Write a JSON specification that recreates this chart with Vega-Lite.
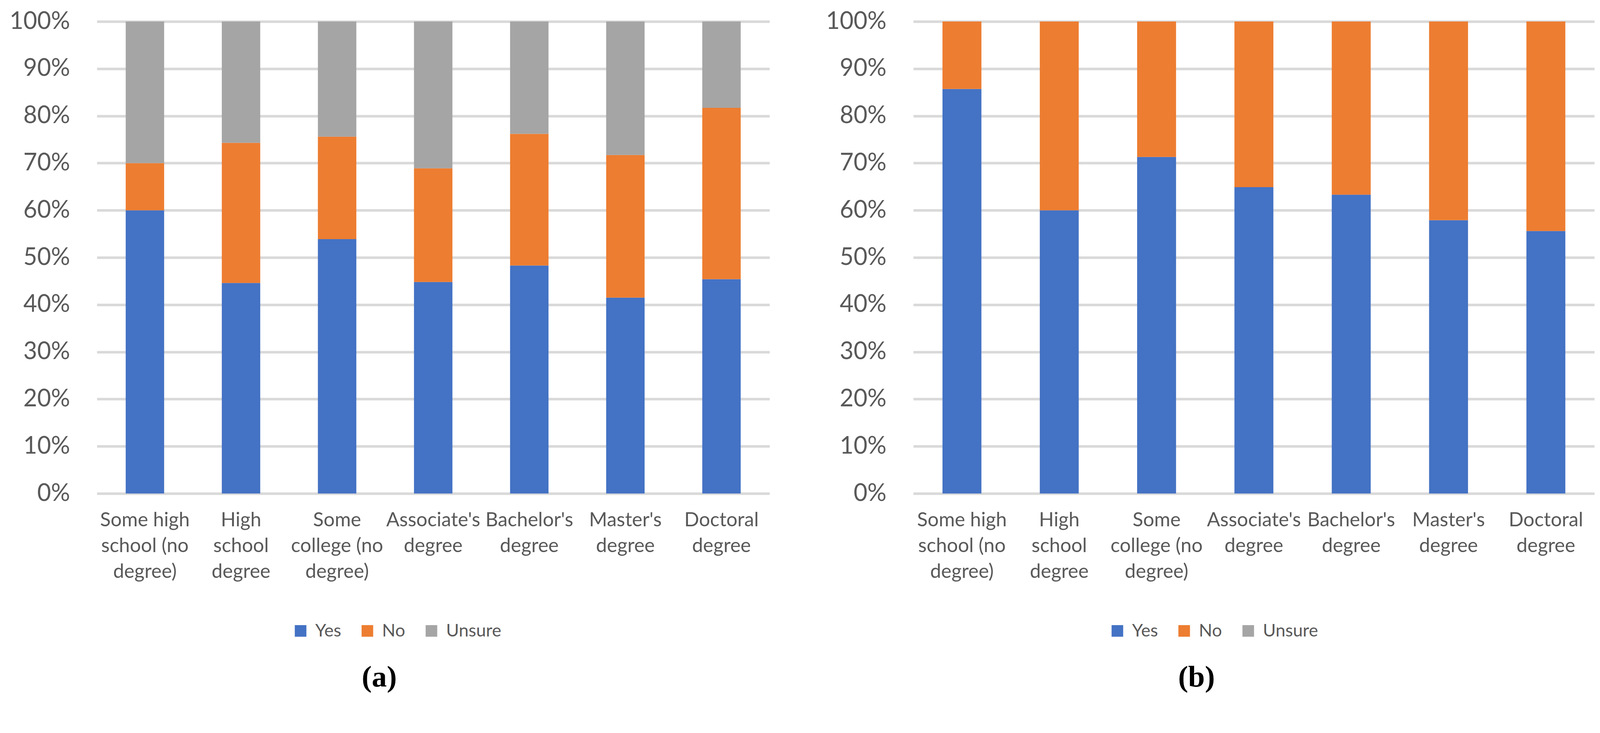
{
  "$schema": "https://vega.github.io/schema/vega-lite/v6.json",
  "background": "white",
  "padding": {"left": 23, "top": 24, "right": 0, "bottom": 30},
  "datasets": {
    "answers": [
      {"answer": "Yes", "rank": 1},
      {"answer": "No", "rank": 2},
      {"answer": "Unsure", "rank": 3}
    ],
    "a": [
      {"education": "Some high school (no degree)", "answer": "Yes", "share": 0.600},
      {"education": "Some high school (no degree)", "answer": "No", "share": 0.100},
      {"education": "Some high school (no degree)", "answer": "Unsure", "share": 0.300},
      {"education": "High school degree", "answer": "Yes", "share": 0.446},
      {"education": "High school degree", "answer": "No", "share": 0.297},
      {"education": "High school degree", "answer": "Unsure", "share": 0.257},
      {"education": "Some college (no degree)", "answer": "Yes", "share": 0.539},
      {"education": "Some college (no degree)", "answer": "No", "share": 0.217},
      {"education": "Some college (no degree)", "answer": "Unsure", "share": 0.244},
      {"education": "Associate's degree", "answer": "Yes", "share": 0.448},
      {"education": "Associate's degree", "answer": "No", "share": 0.241},
      {"education": "Associate's degree", "answer": "Unsure", "share": 0.311},
      {"education": "Bachelor's degree", "answer": "Yes", "share": 0.483},
      {"education": "Bachelor's degree", "answer": "No", "share": 0.279},
      {"education": "Bachelor's degree", "answer": "Unsure", "share": 0.238},
      {"education": "Master's degree", "answer": "Yes", "share": 0.415},
      {"education": "Master's degree", "answer": "No", "share": 0.302},
      {"education": "Master's degree", "answer": "Unsure", "share": 0.283},
      {"education": "Doctoral degree", "answer": "Yes", "share": 0.454},
      {"education": "Doctoral degree", "answer": "No", "share": 0.363},
      {"education": "Doctoral degree", "answer": "Unsure", "share": 0.183}
    ],
    "b": [
      {"education": "Some high school (no degree)", "answer": "Yes", "share": 0.857},
      {"education": "Some high school (no degree)", "answer": "No", "share": 0.143},
      {"education": "High school degree", "answer": "Yes", "share": 0.600},
      {"education": "High school degree", "answer": "No", "share": 0.400},
      {"education": "Some college (no degree)", "answer": "Yes", "share": 0.713},
      {"education": "Some college (no degree)", "answer": "No", "share": 0.287},
      {"education": "Associate's degree", "answer": "Yes", "share": 0.649},
      {"education": "Associate's degree", "answer": "No", "share": 0.351},
      {"education": "Bachelor's degree", "answer": "Yes", "share": 0.633},
      {"education": "Bachelor's degree", "answer": "No", "share": 0.367},
      {"education": "Master's degree", "answer": "Yes", "share": 0.579},
      {"education": "Master's degree", "answer": "No", "share": 0.421},
      {"education": "Doctoral degree", "answer": "Yes", "share": 0.556},
      {"education": "Doctoral degree", "answer": "No", "share": 0.444}
    ]
  },
  "spacing": 143,
  "resolve": {
    "scale": {"x": "independent", "y": "independent", "color": "independent"},
    "legend": {"color": "independent"}
  },
  "hconcat": [
    {
      "width": 1722,
      "height": 1208,
      "data": {"name": "a"},
      "transform": [
        {"lookup": "answer", "from": {"data": {"name": "answers"}, "key": "answer", "fields": ["rank"]}}
      ],
      "mark": {"type": "bar"},
      "title": {"text": "(a)", "orient": "bottom", "anchor": "middle", "dx": -138},
      "encoding": {
        "x": {
          "field": "education", "type": "nominal",
          "sort": ["Some high school (no degree)", "High school degree", "Some college (no degree)", "Associate's degree", "Bachelor's degree", "Master's degree", "Doctoral degree"],
          "scale": {"paddingInner": 0.6, "paddingOuter": 0.3},
          "axis": {"title": null}
        },
        "y": {
          "field": "share", "type": "quantitative", "stack": "zero",
          "scale": {"domain": [0, 1], "nice": false},
          "axis": {"title": null, "values": [0, 0.1, 0.2, 0.3, 0.4, 0.5, 0.6, 0.7, 0.8, 0.9, 1], "format": ".0%"}
        },
        "order": {"field": "rank", "type": "quantitative", "sort": "ascending"},
        "color": {
          "field": "answer", "type": "nominal",
          "sort": ["Yes", "No", "Unsure"],
          "scale": {"domain": ["Yes", "No", "Unsure"], "range": ["#4472C4", "#ED7D31", "#A5A5A5"]},
          "legend": {"title": null, "orient": "none", "legendX": 499, "legendY": 1537, "direction": "horizontal"}
        }
      }
    },
    {
      "width": 1744,
      "height": 1208,
      "data": {"name": "b"},
      "transform": [
        {"lookup": "answer", "from": {"data": {"name": "answers"}, "key": "answer", "fields": ["rank"]}}
      ],
      "mark": {"type": "bar"},
      "title": {"text": "(b)", "orient": "bottom", "anchor": "middle", "dx": -147},
      "encoding": {
        "x": {
          "field": "education", "type": "nominal",
          "sort": ["Some high school (no degree)", "High school degree", "Some college (no degree)", "Associate's degree", "Bachelor's degree", "Master's degree", "Doctoral degree"],
          "scale": {"paddingInner": 0.6, "paddingOuter": 0.3},
          "axis": {"title": null}
        },
        "y": {
          "field": "share", "type": "quantitative", "stack": "zero",
          "scale": {"domain": [0, 1], "nice": false},
          "axis": {"title": null, "values": [0, 0.1, 0.2, 0.3, 0.4, 0.5, 0.6, 0.7, 0.8, 0.9, 1], "format": ".0%"}
        },
        "order": {"field": "rank", "type": "quantitative", "sort": "ascending"},
        "color": {
          "field": "answer", "type": "nominal",
          "sort": ["Yes", "No", "Unsure"],
          "scale": {"domain": ["Yes", "No", "Unsure"], "range": ["#4472C4", "#ED7D31", "#A5A5A5"]},
          "legend": {"title": null, "orient": "none", "legendX": 500, "legendY": 1537, "direction": "horizontal"}
        }
      }
    }
  ],
  "config": {
    "view": {"stroke": null},
    "font": "Lato",
    "axisX": {
      "domain": false, "ticks": false, "tickSize": 0, "grid": false,
      "labelAngle": 0, "labelFont": "Lato", "labelFontSize": 50, "labelColor": "#595959",
      "labelPadding": 43, "labelLineHeight": 66, "labelBaseline": "top",
      "labelOverlap": false, "labelLimit": 0,
      "labelExpr": "datum.value == 'Some high school (no degree)' ? ['Some high', 'school (no', 'degree)'] : datum.value == 'High school degree' ? ['High', 'school', 'degree'] : datum.value == 'Some college (no degree)' ? ['Some', 'college (no', 'degree)'] : split(datum.value, ' ')"
    },
    "axisY": {
      "domain": false, "ticks": false, "tickSize": 0, "grid": true,
      "gridColor": "#D9D9D9", "gridWidth": 6.7,
      "labelFont": "Lato", "labelFontSize": 61, "labelColor": "#595959",
      "labelPadding": 69, "labelFlush": false, "labelOverlap": false
    },
    "legend": {
      "padding": 0, "symbolType": "square", "symbolSize": 882, "symbolStrokeWidth": 0,
      "labelFont": "Lato", "labelFontSize": 45, "labelColor": "#595959", "labelLimit": 0,
      "labelOffset": 15, "columnPadding": 44, "offset": 0
    },
    "title": {
      "font": "Liberation Serif", "fontSize": 77, "fontWeight": "bold", "color": "#000000", "offset": 58
    }
  }
}
